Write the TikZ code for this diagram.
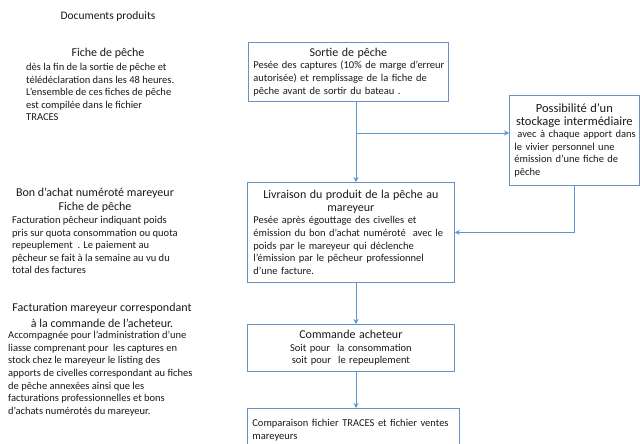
\documentclass[tikz,border=0pt]{standalone}
\usepackage{fontspec}
\setmainfont{Carlito}
\usepackage{xcolor}
\usepackage{tikz}
\usetikzlibrary{arrows.meta,positioning}

\definecolor{boxblue}{RGB}{105,145,195}
\definecolor{lineblue}{RGB}{95,150,210}
\definecolor{ink}{RGB}{25,25,25}

\newcommand{\titlesize}{\fontsize{12}{14.5}\selectfont}
\newcommand{\bodysize}{\fontsize{10.5}{12.6}\selectfont}

\tikzset{
  flowbox/.style={draw=boxblue, line width=0.8pt, anchor=north west, inner xsep=6pt, inner ysep=3pt,
    align=left, font=\bodysize, text=ink},
  link/.style={draw=lineblue, line width=1pt, -{Stealth[length=5pt,width=5pt]}},
  doctitle/.style={font=\titlesize, text=ink, align=center, inner sep=0pt},
  doctext/.style={font=\bodysize, text=ink, align=left, anchor=north west, inner sep=0pt},
}

\begin{document}
\begin{tikzpicture}[x=1pt, y=-1pt]
    \useasboundingbox (0,0) rectangle (640,444);

    % left column: documents
    \node[doctitle, font=\fontsize{11.5}{14}\selectfont] (docs) at (108,16) {Documents produits};

    \node[doctitle] (fichetitle) at (108,53) {Fiche de pêche};
    \node[doctext] (fichetext) at (26,63) {dès la fin de la sortie de pêche et\\
      télédéclaration dans les 48 heures.\\
      L’ensemble de ces fiches de pêche\\
      est compilée dans le fichier\\
      TRACES};

    \node[doctitle] (bontitle) at (95,200) {Bon d’achat numéroté mareyeur\\Fiche de pêche};
    \node[doctext] (bontext) at (12,216) {Facturation pêcheur indiquant poids\\
      pris sur quota consommation ou quota\\
      repeuplement~~. Le paiement au\\
      pêcheur se fait à la semaine au vu du\\
      total des factures};

    \node[doctitle, font=\fontsize{12}{16}\selectfont] (facttitle) at (102,315) {Facturation mareyeur correspondant\\à la commande de l’acheteur.};
    \node[doctext] (facttext) at (8,331) {Accompagnée pour l’administration d’une\\
      liasse comprenant pour~ les captures en\\
      stock chez le mareyeur le listing des\\
      apports de civelles correspondant au fiches\\
      de pêche annexées ainsi que les\\
      facturations professionnelles et bons\\
      d’achats numérotés du mareyeur.};

    % right column: flow
    \node[flowbox, inner xsep=5pt, text width=190pt, minimum height=59pt] (sortie) at (248,42)
      {\centering{\titlesize Sortie de pêche}\par\raggedright
       \mbox{Pesée des captures (10\% de marge d’erreur}\\
       autorisée) et remplissage de la fiche de\\
       pêche avant de sortir du bateau .};

    \node[flowbox, inner xsep=5pt, text width=120pt, minimum height=90pt] (stockage) at (509,95)
      {\centering{\fontsize{12.5}{15.5}\selectfont Possibilité d’un\\stockage intermédiaire}\par\raggedright
       \mbox{\hspace*{3pt}avec à chaque apport dans}\\
       le vivier personnel une\\
       émission d’une fiche de\\
       pêche};

    \node[flowbox, text width=195pt, minimum height=100pt] (livraison) at (247,182)
      {\centering{\titlesize Livraison du produit de la pêche au\\mareyeur}\par\raggedright
       Pesée après égouttage des civelles et\\
       \mbox{émission du bon d’achat numéroté~ avec le}\\
       poids par le mareyeur qui déclenche\\
       l’émission par le pêcheur professionnel\\
       d’une facture.};

    \node[flowbox, text width=195pt, minimum height=47pt, align=center] (commande) at (247,324)
      {{\titlesize Commande acheteur}\\
       Soit pour~ la consommation\\
       soit pour~ le repeuplement};

    \node[flowbox, inner xsep=5pt, text width=202pt, minimum height=44pt] (comparaison) at (247,408)
      {\mbox{Comparaison fichier TRACES et fichier ventes}\\
       mareyeurs\\[2pt]};

    % connectors
    \coordinate (spine) at (356,0);
    \coordinate (fork) at (356,133);
    \draw[link] (sortie.south -| spine) -- (livraison.north -| spine);
    \draw[link] (fork) -- (fork -| stockage.west);
    \draw[link] (stockage.south) |- (livraison.east);
    \draw[link] (livraison.south -| spine) -- (commande.north -| spine);
    \draw[link] (commande.south -| spine) -- (comparaison.north -| spine);
\end{tikzpicture}
\end{document}
